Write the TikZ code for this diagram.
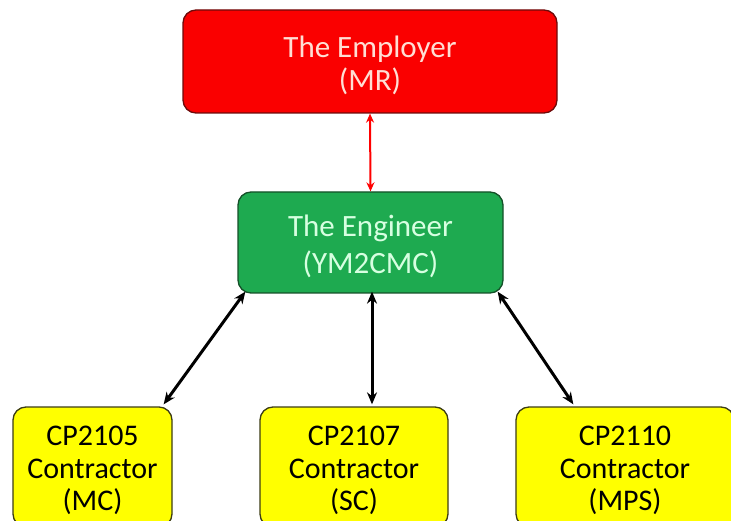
\documentclass[tikz,border=0pt]{standalone}
\usepackage{fontspec}
\setmainfont{Carlito}
\usetikzlibrary{arrows.meta,calc}
\definecolor{empred}{RGB}{250,0,0}
\definecolor{empedge}{RGB}{110,10,10}
\definecolor{emptext}{RGB}{255,222,212}
\definecolor{enggreen}{RGB}{30,170,80}
\definecolor{engedge}{RGB}{20,80,40}
\definecolor{engtext}{RGB}{215,255,225}
\definecolor{conyellow}{RGB}{255,255,0}
\definecolor{conedge}{RGB}{60,60,20}
\tikzset{
  x=1pt, y=-1pt,
  box/.style={rounded corners=13pt, line width=1.3pt, inner sep=0pt},
  topbox/.style={box, fill=empred, draw=empedge},
  midbox/.style={box, fill=enggreen, draw=engedge},
  conbox/.style={box, fill=conyellow, draw=conedge, minimum height=120pt},
  % box labels sit slightly below the box centre
  boxtext/.style={inner sep=0pt, align=center, yshift=-3.5pt},
  toptext/.style={boxtext, text=emptext, font=\fontsize{31}{33}\selectfont},
  midtext/.style={boxtext, text=engtext, font=\fontsize{31}{37}\selectfont},
  context/.style={boxtext, text=black, font=\fontsize{30}{32.5}\selectfont},
  link/.style={line width=3pt, {Stealth[length=12pt,width=10pt]}-{Stealth[length=12pt,width=10pt]}},
  redlink/.style={line width=2pt, draw=red, fill=red,
    {Stealth[length=9pt,width=8pt]}-{Stealth[length=9pt,width=8pt]}},
}
\begin{document}
\begin{tikzpicture}
\useasboundingbox (0,0) rectangle (731,521);
\clip (0,0) rectangle (731,521);
\fill[white] (0,0) rectangle (731,521);

% top level
\node[topbox, minimum width=374pt, minimum height=103pt] (emp) at (370,61.5) {};
\node[toptext] (empT) at (emp.center) {The Employer\\(MR)};
% middle level
\node[midbox, minimum width=265pt, minimum height=101pt] (eng) at (370.5,242.5) {};
\node[midtext] (engT) at (eng.center) {The Engineer\\(YM2CMC)};
% contractors
\node[conbox, minimum width=159pt] (mc) at (92.5,467) {};
\node[context] (mcT) at (mc.center) {CP2105\\Contractor\\(MC)};
\node[conbox, minimum width=188pt] (sc) at (354,467) {};
\node[context] (scT) at (sc.center) {CP2107\\Contractor\\(SC)};
\node[conbox, minimum width=218pt] (mps) at (625,467) {};
\node[context] (mpsT) at (mps.center) {CP2110\\Contractor\\(MPS)};

% connectors
\draw[redlink] (emp.south) -- (eng.north);
\draw[link] ($(eng.south west)+(8,-2)$) -- ($(mc.north east)+(-9,-2)$);
\draw[link] ($(eng.south)+(1.5,-2)$) -- ($(sc.north)+(18,-2)$);
\draw[link] ($(eng.south east)+(-6,-2)$) -- ($(mps.north west)+(58,-2)$);
\end{tikzpicture}
\end{document}
